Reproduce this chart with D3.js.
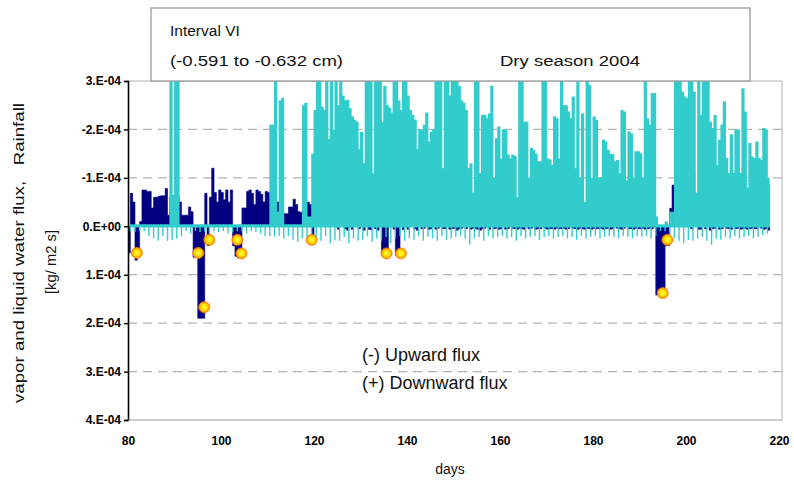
<!DOCTYPE html>
<html><head><meta charset="utf-8">
<script src="https://cdn.jsdelivr.net/npm/d3@7"></script>
<style>
body{margin:0;background:#fff;}
svg{display:block;}
.tick text{font-family:"Liberation Sans Narrow","Arial Narrow","Liberation Sans",Arial,sans-serif;font-weight:bold;font-size:12px;fill:#000;}
.lbl{font-family:"Liberation Sans",Arial,sans-serif;fill:#111;}
</style></head><body>
<svg id="c" width="794" height="485"></svg>
<script>
// half-day samples starting at day 80 (units: 1e-4 kg/m2 s; negative = upward)
const startDay = 80, stepDays = 0.5;
const vaporFlux = [
 0.55,-0.68, -0.50,0.70, 0.60,-0.10, -0.75,-0.75, -0.72,-0.72,
 -0.38,-0.60, -0.60,-0.62, -0.63,-0.63, -0.78,-0.23, -0.60,-0.63,
 -0.63,-0.60, -0.50,-0.23, -0.23,-0.23, -0.40,-0.30, 0.64,0.64,
 1.90,1.90, 1.90,-0.68, 0.40,-0.60, -1.20,-0.70, -0.50,-0.75,
 -0.70,-0.55, -0.75,-0.50, -0.75,0.40, 0.62,0.65, 0.65,-0.38,
 -0.38,-0.72, -0.75,-0.68, -0.45,-0.75, -0.72,-0.66, -0.50,-0.72,
 -0.70,-0.60, -0.40,-0.50, -0.50,-0.35, -0.30,-0.26, -0.26,-0.40,
 -0.40,-0.56, -0.45,-0.30, -0.29,-0.30, -0.30,-0.50, -0.45,0.38,
 -0.20,-0.10, -0.64,-0.30, -0.15,-0.20, -0.10,-0.50, -0.85,-0.20,
 0.06,-0.30, -0.70,0.05, 0.08,-0.30, 0.06,-0.10, -0.20,0.05,
 -0.47,0.08, -0.40,0.06, 0.07,-0.45, 0.05,0.08, -0.72,0.60,
 0.60,0.60, -1.26,-0.30, 0.06,0.60, 0.60,-0.86, 0.07,-0.30,
 0.06,-0.55, -0.58,0.05, 0.08,-0.10, 0.05,0.04, -0.30,0.06,
 0.05,-0.10, 0.06,0.04, -0.10,0.05, 0.05,-0.40, 0.06,0.05,
 0.04,0.08, 0.05,0.04, -0.10,0.05, -0.55,0.06, 0.04,0.05,
 0.06,0.08, 0.05,0.04, -0.10,0.06, -0.25,0.05, 0.04,0.06,
 0.05,-0.30, 0.06,0.05, -0.35,0.04, 0.05,0.06, 0.04,0.05,
 0.06,-0.10, 0.05,0.04, -0.30,0.06, 0.05,0.05, -0.30,0.04,
 0.06,0.05, 0.05,0.06, 0.04,0.05, 0.05,0.04, 0.06,0.05,
 -0.30,0.04, 0.05,0.06, 0.04,0.05, 0.06,0.04, 0.05,0.06,
 0.04,0.05, 0.05,0.04, 0.06,0.05, 0.04,0.06, 0.05,-0.35,
 0.04,0.05, 0.06,0.04, -0.30,0.05, 0.05,0.06, 0.04,0.05,
 0.05,0.04, 0.06,0.05, 0.04,0.05, 0.02,1.42, 1.42,1.42,
 1.42,0.40, 0.40,-0.37, -0.85,-0.50, -0.30,-0.60, -0.50,-0.30,
 -0.20,-0.96, 0.05,-0.30, -0.45,0.06, 0.06,-0.20, 0.05,-0.30,
 0.08,0.05, 0.04,-0.15, 0.06,0.05, -0.20,0.04, 0.05,0.06,
 -0.10,0.05, 0.04,0.06, 0.05,0.04, 0.06,0.05, 0.04,0.05,
 0.05,-0.20, 0.04,0.06, 0.05,0.08
];
const liquidPeak = [
 -0.04,-0.04, -0.04,-0.04, -0.04,-0.04, -0.04,-0.04, -0.04,-0.04,
 -0.04,-0.04, -0.04,-0.04, -0.04,-0.04, -0.04,-0.04, -3.4,-0.65,
 -3.4,-3.4, -0.04,-0.04, -0.04,-0.04, -0.04,-0.04, -0.04,-0.04,
 -0.04,-0.04, -0.04,-0.04, -0.04,-0.04, -0.04,-0.04, -0.04,-0.04,
 -0.04,-0.04, -0.04,-0.04, -0.04,-0.04, -0.04,-0.04, -0.04,-0.04,
 -0.04,-0.04, -0.04,-0.04, -0.04,-0.04, -0.04,-0.04, -0.04,-0.04,
 -0.04,-2.1, -2.1,-3.4, -0.3,-2.6, -2.65,-0.04, -0.04,-0.04,
 -0.04,-0.04, -0.04,-0.04, -0.04,-2.5, -2.55,-0.1, -0.1,-1.5,
 -2.4,-3.4, -3.4,-2.47, -2.4,-3.4, -1.8,-3.4, -2.0,-3.4,
 -2.5,-3.4, -2.7,-2.6, -2.61,-2.44, -2.27,-2.2, -2.16,-1.6,
 -1.95,-1.3, -3.4,-3.4, -3.4,-1.1, -3.4,-3.4, -3.4,-2.16,
 -2.9,-2.5, -2.45,-2.35, -3.4,-3.4, -2.6,-2.4, -3.4,-3.4,
 -2.7,-2.4, -2.3,-2.2, -1.6,-2.0, -2.0,-2.1, -2.35,-1.75,
 -1.95,-2.0, -3.4,-3.4, -3.4,-1.2, -3.4,-3.4, -2.7,-3.4,
 -3.4,-3.4, -2.9,-2.6, -2.55,-2.4, -1.2,-1.3, -0.6,-3.4,
 -3.4,-1.1, -2.3,-2.3, -2.23,-2.33, -2.9,-0.86, -1.82,-2.06,
 -1.4,-2.0, -2.0,-1.48, -1.4,-1.48, -1.45,-0.5, -3.4,-3.4,
 -2.16,-2.16, -0.82,-1.62, -1.58,-1.5, -1.34,-1.34, -3.4,-3.4,
 -1.4,-1.38, -1.27,-2.27, -2.23,-1.4, -3.4,-2.5, -2.5,-2.37,
 -2.23,-2.68, -1.2,-3.4, -0.82,-2.33, -0.45,-3.4, -2.92,-0.82,
 -2.27,-2.2, -0.8,-1.0, -1.79,-1.75, -1.58,-1.5, -1.49,-1.34,
 -1.37,-0.93, -2.4,-2.37, -0.86,-1.96, -1.92,-0.8, -1.55,-1.55,
 -1.51,-0.8, -3.4,-2.23, -2.1,-2.75, -2.75,-0.04, -0.04,-0.04,
 -0.04,-0.1, -0.04,-0.3, -0.04,-3.4, -3.4,-3.4, -2.78,-2.68,
 -2.65,-3.4, -3.4,-2.78, -0.6,-3.4, -2.3,-3.4, -3.4,-3.4,
 -2.16,-2.03, -2.3,-1.27, -1.79,-2.1, -2.58,-1.41, -1.0,-1.9,
 -1.0,-2.0, -2.0,-0.96, -2.85,-2.37, -0.72,-1.72, -1.44,-1.41,
 -1.75,-1.41, -1.37,-2.03, -2.0,-0.86
];
// daily values from day 80
const liquidFloor = [
 0,0,0,0,0,0,0,0,0,0,
 0,0,0,0,0,0,0,0,0,0,
 0,0,0,0,0,0,0,0,0,0,
 0,-0.2,-0.3,0,0,0,0,0,-0.2,-0.2,
 -0.7,-0.8,-0.9,-1.0,-1.0,-1.0,-1.0,-1.1,-1.1,-1.0,
 -1.1,-1.1,-1.0,-1.1,-0.8,-0.7,-1.0,-0.8,-0.7,-1.1,
 -1.1,-1.1,-1.2,-1.1,-1.1,-1.2,-1.1,-1.1,-1.1,-1.0,
 -1.0,-1.0,-0.9,-0.6,-0.7,-1.1,-1.1,-1.1,-1.0,-1.1,
 -1.1,-1.2,-1.1,-0.6,-1.1,-1.0,-1.0,-1.1,-1.1,-1.1,
 -1.1,-1.1,-1.1,-1.0,-1.0,-1.0,-1.0,-1.0,-0.5,-1.0,
 -1.0,-1.0,-1.1,-1.1,-1.1,-1.1,-1.1,-0.95,-1.0,-1.1,
 -1.0,-1.1,-1.1,-0.2,0,0,0,-0.3,-1.0,-1.1,
 -1.1,-1.1,-0.7,-1.1,-1.1,-1.1,-1.1,-1.1,-1.1,-1.1,
 -1.1,-1.1,-1.1,-0.8,-1.1,-1.1,-1.1,-1.0
];
const liquidDip = [
 0.10,0.12,0.10,0.10,0.20,0.25,0.30,0.20,0.30,0.28,
 0.25,0.20,0.10,0.15,0.10,0.12,0.10,0.15,0.10,0.12,
 0.10,0.15,0.12,0.10,0.10,0.15,0.10,0.12,0.15,0.20,
 0.20,0.22,0.20,0.25,0.20,0.28,0.32,0.25,0.30,0.22,
 0.25,0.30,0.20,0.35,0.28,0.30,0.22,0.35,0.25,0.30,
 0.28,0.20,0.32,0.25,0.30,0.22,0.35,0.25,0.20,0.30,
 0.25,0.28,0.20,0.30,0.22,0.25,0.30,0.20,0.28,0.25,
 0.22,0.20,0.25,0.38,0.25,0.22,0.30,0.20,0.25,0.22,
 0.20,0.25,0.22,0.30,0.20,0.25,0.22,0.20,0.28,0.22,
 0.20,0.25,0.22,0.20,0.25,0.22,0.28,0.20,0.25,0.22,
 0.20,0.25,0.22,0.20,0.22,0.25,0.20,0.22,0.25,0.20,
 0.22,0.20,0.25,0.20,0.10,0.10,0.15,0.25,0.30,0.35,
 0.28,0.30,0.25,0.22,0.30,0.38,0.25,0.28,0.22,0.25,
 0.20,0.25,0.22,0.20,0.25,0.22,0.18,0.15
];
const rainDays   = [81.9, 95.1, 96.4, 97.5, 103.5, 104.4, 119.5, 135.6, 138.7, 195.0, 196.0];
const rainValues = [0.55, 0.55, 1.67, 0.28, 0.28, 0.56, 0.28, 0.56, 0.56, 1.38, 0.28];
const yTickValues = [-3,-2,-1,0,1,2,3,4];
const yTickLabels = ["3.E-04","-2.E-04","-1.E-04","0.E+00","1.E-04","2.E-04","3.E-04","4.E-04"];
const gridValues = [-2,-1,1,2,3];
const xTickValues = [80,100,120,140,160,180,200,220];
const boxLine1 = "Interval VI";
const boxLine2a = "(-0.591 to -0.632 cm)";
const boxLine2b = "Dry season 2004";
const yTitle1 = "vapor and liquid water flux,   Rainfall";
const yTitle2 = "[kg/ m2 s]";
const xTitle = "days";
const flux1 = "(-) Upward flux";
const flux2 = "(+) Downward flux";

const NAVY = "#000080", CYAN = "#33cccc";
const svg = d3.select("#c");
const L = 128, R = 779, T = 81, B = 420;
const x = d3.scaleLinear().domain([80,220]).range([L,R]);
const y = d3.scaleLinear().domain([-3,4]).range([T,B]);

const defs = svg.append("defs");
defs.append("clipPath").attr("id","clip").append("rect")
  .attr("x",L).attr("y",T).attr("width",782-L).attr("height",B-T);
const rg = defs.append("radialGradient").attr("id","dot");
rg.append("stop").attr("offset","0%").attr("stop-color","#ffff40");
rg.append("stop").attr("offset","55%").attr("stop-color","#ffe000");
rg.append("stop").attr("offset","100%").attr("stop-color","#ff8a00");

// grid
svg.append("g").selectAll("line").data(gridValues).join("line")
  .attr("x1",L).attr("x2",782).attr("y1",d=>y(d)).attr("y2",d=>y(d))
  .attr("stroke","#b5b5b5").attr("stroke-width",1.3).attr("stroke-dasharray","9,6");

// frame (top/right)
svg.append("path").attr("d",`M${L},${T}H782V${B}`).attr("fill","none").attr("stroke","#b0b0b0").attr("stroke-width",1);

const plot = svg.append("g").attr("clip-path","url(#clip)");

// vapor flux (drawn beneath the liquid flux)
const vapPts = vaporFlux.map((v,i)=>({d:startDay+i*stepDays, v}));
vapPts.push({d:startDay+vaporFlux.length*stepDays, v:vaporFlux[vaporFlux.length-1]});
plot.append("path").datum(vapPts)
  .attr("d", d3.area().curve(d3.curveStepAfter).x(p=>x(p.d)).y0(y(0)).y1(p=>y(p.v)))
  .attr("fill",NAVY).attr("stroke",NAVY).attr("stroke-width",0.6);

// liquid floor band
const floorPts = liquidFloor.map((f,i)=>({d:startDay+i, v:f}));
floorPts.push({d:startDay+liquidFloor.length, v:liquidFloor[liquidFloor.length-1]});
plot.append("path").datum(floorPts)
  .attr("d", d3.area().curve(d3.curveStepAfter).x(p=>x(p.d)).y0(y(0)).y1(p=>y(p.v)))
  .attr("fill",CYAN);

// liquid columns (solid, slightly overlapping)
const halfW = x(startDay+stepDays)-x(startDay);
plot.append("g").selectAll("rect").data(liquidPeak).join("rect")
  .attr("x",(v,i)=>x(startDay+i*stepDays)-0.45)
  .attr("width",halfW+0.9)
  .attr("y",v=>y(Math.min(v,0)))
  .attr("height",v=>y(0)-y(Math.min(v,0)))
  .attr("fill",CYAN);

// liquid baseline + dips
const lastDay = startDay + liquidPeak.length*stepDays;
plot.append("path").datum([startDay,lastDay])
  .attr("d", d3.line().x(d=>x(d)).y(()=>y(0)))
  .attr("stroke",CYAN).attr("stroke-width",2.4);
plot.append("g").selectAll("line").data(liquidDip).join("line")
  .attr("x1",(v,i)=>x(startDay+i+0.5)).attr("x2",(v,i)=>x(startDay+i+0.5))
  .attr("y1",y(0)).attr("y2",v=>y(v))
  .attr("stroke",CYAN).attr("stroke-width",1.4);

// rainfall points
svg.append("g").selectAll("circle").data(rainDays).join("circle")
  .attr("cx",d=>x(d)).attr("cy",(d,i)=>y(rainValues[i])).attr("r",5.5)
  .attr("fill","url(#dot)").attr("stroke","#ff7a00").attr("stroke-width",0.8);

// axes
const ya = svg.append("g").attr("transform",`translate(${L},0)`)
  .call(d3.axisLeft(y).tickValues(yTickValues).tickFormat((d,i)=>yTickLabels[i]).tickSize(4).tickPadding(3));
ya.select(".domain").attr("stroke","#000").attr("stroke-width",1.6);
ya.selectAll(".tick line").attr("stroke","#000").attr("stroke-width",1.4);

const xa = svg.append("g").attr("transform",`translate(0,${B})`)
  .call(d3.axisBottom(x).tickValues(xTickValues).tickSizeInner(0).tickSizeOuter(0).tickPadding(16));
xa.select(".domain").attr("stroke","#9a9a9a").attr("stroke-width",1.2).attr("d",`M${L},0H782`);

// legend box
svg.append("rect").attr("x",151).attr("y",8).attr("width",599).attr("height",73)
  .attr("fill","#fff").attr("stroke","#9a9a9a").attr("stroke-width",1.3);
svg.append("text").attr("class","lbl").attr("x",170).attr("y",36).attr("font-size",15.5).text(boxLine1);
svg.append("text").attr("class","lbl").attr("x",170).attr("y",66).attr("font-size",15.5)
  .attr("textLength",173).attr("lengthAdjust","spacingAndGlyphs").text(boxLine2a);
svg.append("text").attr("class","lbl").attr("x",500).attr("y",66).attr("font-size",15.5)
  .attr("textLength",140).attr("lengthAdjust","spacingAndGlyphs").text(boxLine2b);

// flux notes
svg.append("text").attr("class","lbl").attr("x",362).attr("y",361).attr("font-size",18).text(flux1);
svg.append("text").attr("class","lbl").attr("x",362).attr("y",389).attr("font-size",18).text(flux2);

// titles
svg.append("text").attr("class","lbl").attr("font-size",15).attr("text-anchor","middle")
  .attr("textLength",300).attr("lengthAdjust","spacingAndGlyphs")
  .attr("transform","translate(24,253) rotate(-90)").style("white-space","pre").text(yTitle1);
svg.append("text").attr("class","lbl").attr("font-size",15).attr("text-anchor","middle")
  .attr("textLength",64).attr("lengthAdjust","spacingAndGlyphs")
  .attr("transform","translate(56,262) rotate(-90)").text(yTitle2);
svg.append("text").attr("class","lbl").attr("font-size",14).attr("text-anchor","middle")
  .attr("x",450).attr("y",474).text(xTitle);
</script></body></html>
